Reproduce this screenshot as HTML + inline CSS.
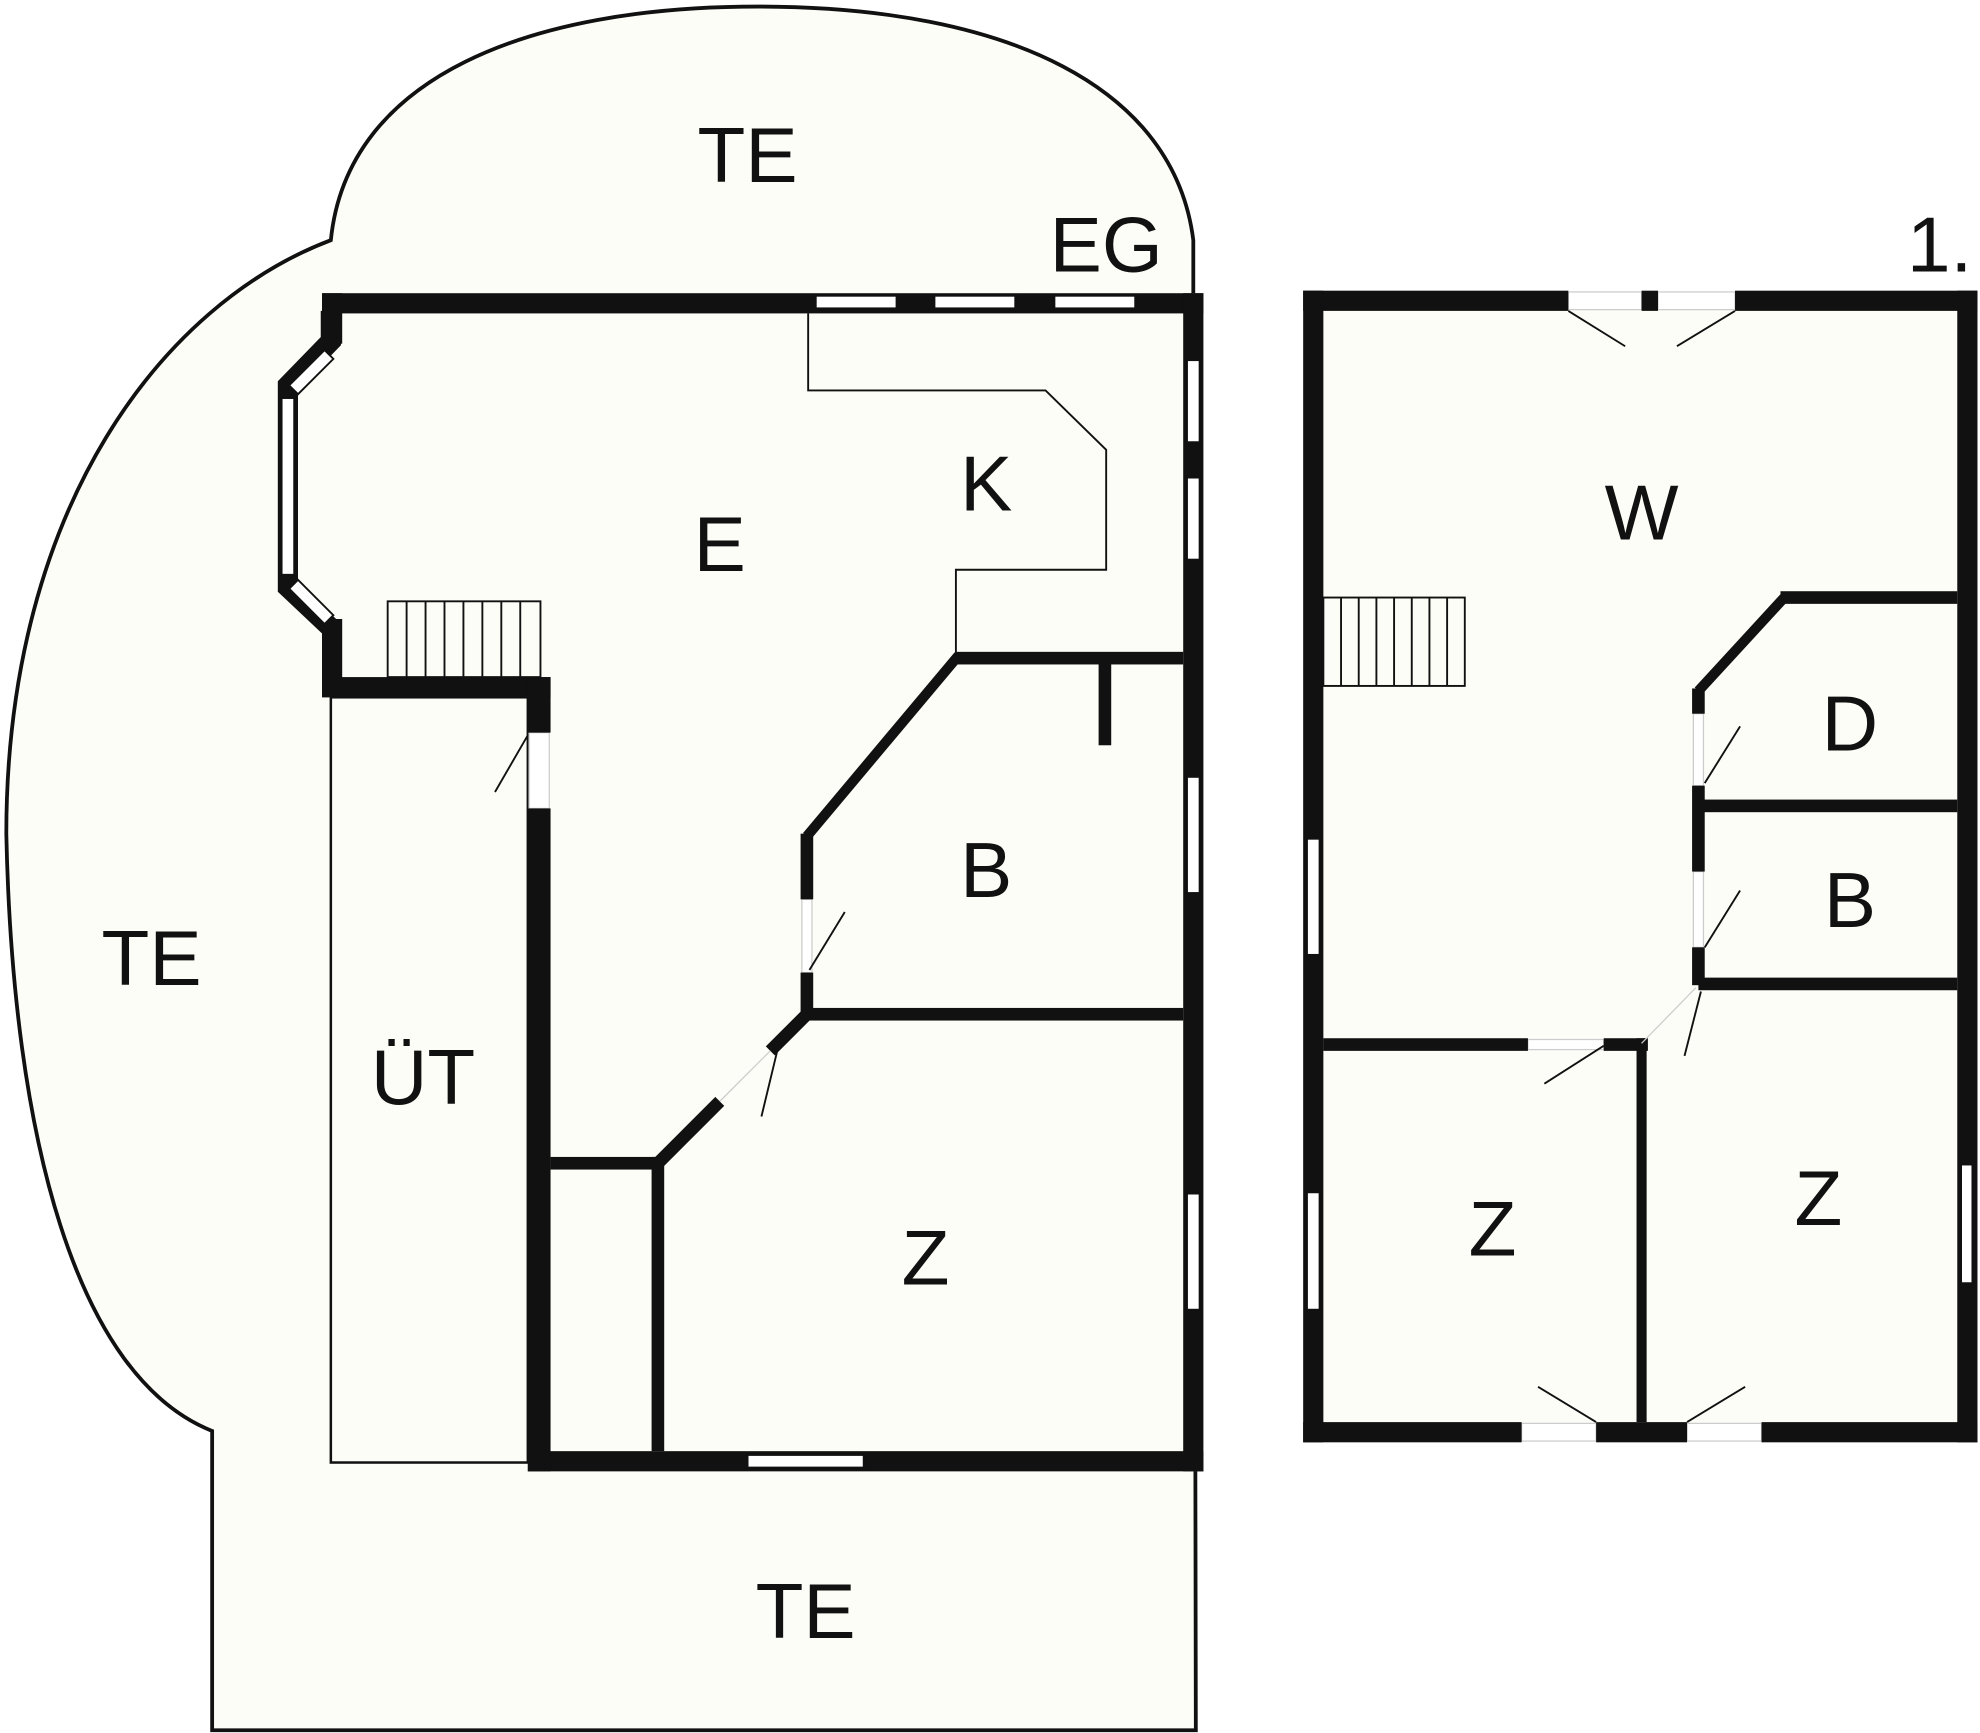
<!DOCTYPE html>
<html><head><meta charset="utf-8"><style>
html,body{margin:0;padding:0;background:#fff;}
svg{display:block;}
text{font-family:"Liberation Sans",sans-serif;font-size:62px;fill:#111;text-anchor:middle;}
</style></head><body>
<svg width="1980" height="1733" viewBox="0 0 1568 1372" xmlns="http://www.w3.org/2000/svg">
<rect width="1568" height="1372" fill="#fff"/>
<!-- terrace -->
<path d="M262,190 C275,60 420,5 600,5 C800,5 930,70 945,190 L945,232 L947,1370 L168,1370 L168,1133 C60,1090 10,900 5,660 C5,400 130,240 262,190 Z" fill="#fdfdf8" stroke="#111" stroke-width="3"/>
<!-- left building fill -->
<path d="M255,232 L953,232 L953,1165 L418,1165 L418,1158 L262,1158 L262,552 L255,552 L255,490 L220,465 L220,305 L255,272 Z" fill="#fdfdf8"/>
<rect x="262" y="552" width="156" height="606" fill="none" stroke="#111" stroke-width="2"/>
<!-- door gap fills -->
<g fill="#fff" stroke="#ccc" stroke-width="1">
<rect x="419" y="580" width="16" height="60"/>
<rect x="635" y="712" width="8" height="58"/>
</g>
<g fill="#111">
<rect x="255" y="232" width="698" height="16"/>
<rect x="937" y="232" width="16" height="933"/>
<rect x="418" y="1149" width="535" height="16"/>
<rect x="255" y="232" width="16" height="40"/>
<rect x="255" y="490" width="16" height="62"/>
<rect x="255" y="536" width="181" height="16"/>
<rect x="418" y="536" width="18" height="44"/>
<rect x="418" y="640" width="18" height="525"/>
<rect x="436" y="916" width="84" height="10"/>
<rect x="516" y="916" width="10" height="233"/>
<rect x="634" y="660" width="10" height="52"/>
<rect x="634" y="770" width="10" height="36"/>
<rect x="640" y="798" width="297" height="10"/>
<rect x="757" y="516" width="180" height="10"/>
<rect x="870" y="520" width="10" height="70"/>
</g>
<g stroke="#111" fill="none">
<line x1="521" y1="921" x2="570" y2="872" stroke-width="10"/>
<line x1="610" y1="832" x2="640" y2="802" stroke-width="10"/>
<line x1="639" y1="662" x2="759" y2="519" stroke-width="8"/>
<path d="M262,246 L262,270 L228,305 L228,465 L262,497" stroke-width="16" stroke-linejoin="miter"/>
</g>
<!-- bay windows -->
<g fill="#fff" stroke="#111" stroke-width="1.5">
<rect x="223" y="315" width="10" height="140"/>
<polygon points="229,305 257,277 264,284 236,312"/>
<polygon points="229,466 257,494 264,487 236,459"/>
</g>
<!-- windows -->
<g fill="#fff" stroke="#111" stroke-width="1.5">
<rect x="646" y="234" width="64" height="10"/>
<rect x="740" y="234" width="64" height="10"/>
<rect x="835" y="234" width="64" height="10"/>
<rect x="940" y="285" width="10" height="65"/>
<rect x="940" y="378" width="10" height="65"/>
<rect x="940" y="615" width="10" height="92"/>
<rect x="940" y="945" width="10" height="92"/>
<rect x="592" y="1152" width="92" height="10"/>
</g>
<g stroke="#111" stroke-width="1.5" fill="none">
<path d="M640,248 L640,309 L828,309 L876,356 L876,451 L757,451 L757,520"/>
<line x1="392" y1="627" x2="418" y2="582"/>
<line x1="641" y1="768" x2="669" y2="722"/>
<line x1="603" y1="884" x2="616" y2="830"/>
<rect x="307" y="476" width="121" height="60" fill="#fdfdf8"/>
<path d="M322,476V536M337,476V536M352,476V536M367,476V536M382,476V536M397,476V536M412,476V536"/>
</g>
<line x1="570" y1="872" x2="610" y2="832" stroke="#ccc" stroke-width="1"/>
<!-- right building -->
<rect x="1040" y="238" width="518" height="896" fill="#fdfdf8"/>
<g fill="#fff" stroke="#ccc" stroke-width="1">
<rect x="1242" y="231" width="58" height="14"/>
<rect x="1313" y="231" width="61" height="14"/>
<rect x="1205" y="1127" width="59" height="14"/>
<rect x="1336" y="1127" width="59" height="14"/>
<rect x="1210" y="823" width="60" height="8"/>
<rect x="1341" y="565" width="8" height="57"/>
<rect x="1341" y="690" width="8" height="60"/>
</g>
<g fill="#111">
<rect x="1032" y="230" width="210" height="16"/>
<rect x="1300" y="230" width="13" height="16"/>
<rect x="1374" y="230" width="192" height="16"/>
<rect x="1032" y="230" width="16" height="912"/>
<rect x="1550" y="230" width="16" height="912"/>
<rect x="1032" y="1126" width="173" height="16"/>
<rect x="1264" y="1126" width="72" height="16"/>
<rect x="1395" y="1126" width="171" height="16"/>
<rect x="1410" y="468" width="140" height="10"/>
<rect x="1340" y="545" width="10" height="20"/>
<rect x="1340" y="622" width="10" height="68"/>
<rect x="1340" y="750" width="10" height="30"/>
<rect x="1345" y="633" width="205" height="10"/>
<rect x="1345" y="774" width="205" height="10"/>
<rect x="1048" y="822" width="162" height="10"/>
<rect x="1270" y="822" width="35" height="10"/>
<rect x="1296" y="822" width="8" height="304"/>
</g>
<g stroke="#111" fill="none">
<line x1="1413" y1="473" x2="1345" y2="547" stroke-width="8"/>
</g>
<g fill="#fff" stroke="#111" stroke-width="1.5">
<rect x="1035" y="664" width="10" height="92"/>
<rect x="1035" y="944" width="10" height="93"/>
<rect x="1553" y="922" width="9" height="94"/>
</g>
<g stroke="#111" stroke-width="1.5" fill="none">
<line x1="1242" y1="246" x2="1287" y2="274"/>
<line x1="1374" y1="246" x2="1328" y2="274"/>
<line x1="1218" y1="1098" x2="1264" y2="1126"/>
<line x1="1336" y1="1126" x2="1382" y2="1098"/>
<line x1="1350" y1="620" x2="1378" y2="575"/>
<line x1="1350" y1="750" x2="1378" y2="705"/>
<line x1="1223" y1="858" x2="1270" y2="828"/>
<line x1="1334" y1="836" x2="1347" y2="785"/>
<rect x="1048" y="473" width="112" height="70" fill="#fdfdf8"/>
<path d="M1062,473V543M1076,473V543M1090,473V543M1104,473V543M1118,473V543M1132,473V543M1146,473V543"/>
</g>
<line x1="1300" y1="826" x2="1343" y2="782" stroke="#ccc" stroke-width="1"/>
<!-- labels -->
<text x="592" y="144">TE</text>
<text x="876" y="215">EG</text>
<text x="1536" y="215">1.</text>
<text x="570" y="452">E</text>
<text x="781" y="404">K</text>
<text x="1300" y="427">W</text>
<text x="1465" y="594">D</text>
<text x="781" y="710">B</text>
<text x="1465" y="734">B</text>
<text x="120" y="780">TE</text>
<text x="335" y="874">ÜT</text>
<text x="733" y="1017">Z</text>
<text x="1182" y="994">Z</text>
<text x="1440" y="970">Z</text>
<text x="638" y="1297">TE</text>
</svg>
</body></html>
